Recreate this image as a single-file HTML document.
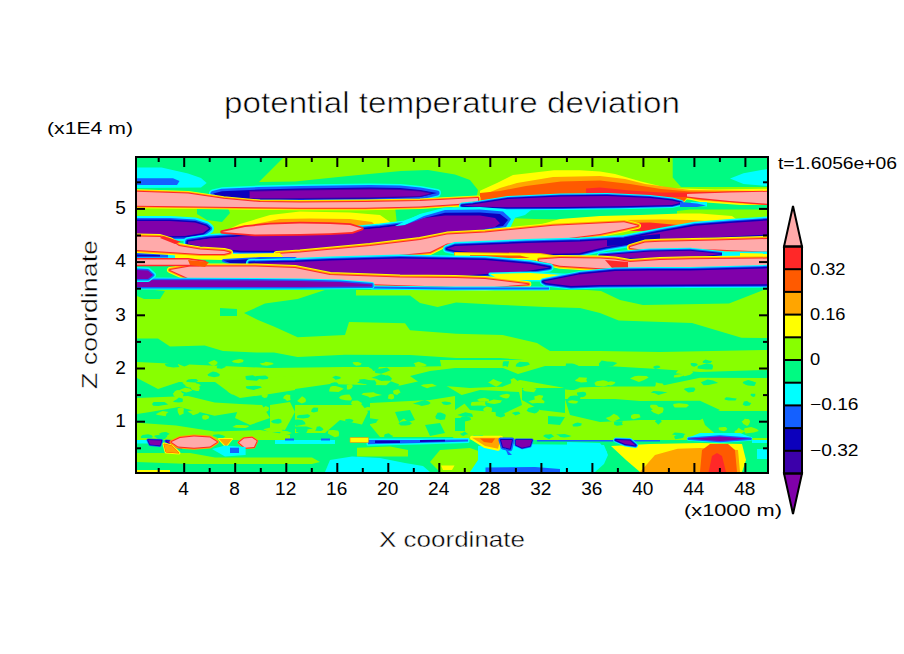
<!DOCTYPE html>
<html><head><meta charset="utf-8"><style>
html,body{margin:0;padding:0;background:#fff;}
svg{display:block;}
</style></head><body>
<svg width="904" height="654" viewBox="0 0 904 654">
<defs><clipPath id="cp"><rect x="137" y="158" width="630" height="314"/></clipPath></defs>
<rect x="0" y="0" width="904" height="654" fill="#fff"/>
<g clip-path="url(#cp)">
<rect x="137" y="158" width="630" height="314" fill="#00fa82"/>
<path d="M137,289L328,289L297.6,299L265,303.6L244,313L258,320L274.4,326.8L297.6,337.3L345,335L349,322L405,323.3L410,330.3L456,333.8L502.6,335L537,343L550,351L600,351L660,352L767,350L767,367L700,367L600,367L550,362L500,358L456,358L410,355L345,354.7L297.6,357L274,352.4L256,352.4L223,351L204.7,345.4L170,346.6L158,338.4L137,338.4Z" fill="#88ff00"/><path d="M137,289L144,289L165,291L160,299L144,299L137,296Z" fill="#00fa82"/><path d="M220,308L237,309L237,316L220,316Z" fill="#00fa82"/><path d="M356,289.6L410,289.5L550,288.5L580,289.5L601,291L620,300L643,305L672.7,304.6L729,303.4L763.6,290L767,290L767,338L741.5,337.8L692,323L618.7,320.6L600,313L580,308L545,307L502,305L456,302.4L437.6,307L420,303L410,295.5L356,295.5Z" fill="#88ff00"/><path d="M137,362L200,365L270,368L345,367L400,367L456,366L500,365L540,367L540,368L500,369L456,374L420,381L400,385.5L345,384.5L330,384L295,389L270,385L232,394.5L215,382L179,382L158,389L137,378Z" fill="#88ff00"/><path d="M223,380L260,378L295,376L295,390L270,394L240,398L228,392Z" fill="#88ff00"/><path d="M137,398L188,396L214.6,402.4L240,404L250,410L214.6,415.7L179,407L150,412L137,414Z" fill="#88ff00"/><path d="M137,422.8L176,425.5L214.6,431.6L260,430L290,435L290,440L137,440Z" fill="#88ff00"/><path d="M240,404L262,405L270,418L250,425L235,418Z" fill="#88ff00"/><path d="M270,405L290,402L295,412L285,430L270,428Z" fill="#88ff00"/><path d="M295,405L325,405L362,405L368,412L362,424.6L340,420L325,433L295,433Z" fill="#88ff00"/><path d="M370,403L430,400L455,396L455,437L380,437L370,425Z" fill="#88ff00"/><path d="M395,412L410,410L415,420L400,424Z" fill="#00fa82"/><path d="M425,425L440,423L445,433L430,436Z" fill="#00fa82"/><path d="M440,360L767,360L767,440L455,440L440,420L470,400L445,385Z" fill="#88ff00"/><path d="M410,376L430,371L455,368L503,368L518,374L545,366L607,366L658,369L700,372L767,370L767,378L700,377.7L658,386.5L607,386.5L565,388L520,380L503,386.5L470,388L445,386L420,383Z" fill="#00fa82"/><path d="M456,370L503,371L503,386.5L456,386Z" fill="#00fa82"/><path d="M458,396L480,390L519,392L522,405L505,413L470,410Z" fill="#00fa82"/><path d="M522,388L565,388L565,413L540,410L522,400Z" fill="#00fa82"/><path d="M565,399L615,399L640,401L700,400.7L720,410L700,420L640,420L600,422L570,415Z" fill="#00fa82"/><path d="M700,411L767,411L767,438L720,438L705,425Z" fill="#00fa82"/><path d="M455,418L465,418L465,431L455,431Z" fill="#00fa82"/><path d="M548,416L565,417L560,425L548,424Z" fill="#00fa82"/><path d="M430.7,403.1L428.8,404.5L421.7,406L418.5,404.8L412.8,403.7L418.9,401.8L424.8,400L428.8,401.4Z" fill="#00fa82"/><path d="M243.1,360.9L243.2,362.1L238.5,363.3L233.6,362.5L231.7,361.2L234.7,360.1L240.2,358.9L243.8,360Z" fill="#88ff00"/><path d="M341.1,377.9L339.2,379L335.4,379.8L334.8,378.9L332.2,377.3L334.5,376.3L335.6,375.8L339.9,376.8Z" fill="#00fa82"/><path d="M200.9,385.2L199.1,386.7L193.4,387.8L188.7,387.5L185,386.1L187,383.8L192.9,383L198.5,383.7Z" fill="#88ff00"/><path d="M750.2,421.5L748.9,424.6L747.1,425.9L743.5,423.9L741.7,421.5L743.3,420.5L744.8,418.7L749,419.3Z" fill="#88ff00"/><path d="M382.1,395L376.9,396L369.9,397.8L368.1,396.4L361.4,394.5L363.3,393L373.6,392.3L375.9,393.6Z" fill="#88ff00"/><path d="M169.6,433.7L166.7,435.9L165,437.3L162.2,436L158.6,434L161.6,432.4L164.9,432L166.1,432.1Z" fill="#00fa82"/><path d="M421.2,364.7L422.1,366.5L417,367.1L414.7,366.2L415.4,364.9L413.6,363.2L418.7,361.7L420.5,362.6Z" fill="#88ff00"/><path d="M445.8,415.5L444.8,419.5L440.3,419.9L435.9,418.7L435.4,416.5L437.5,412.8L440.7,412.4L445.1,414.3Z" fill="#00fa82"/><path d="M536.6,388.8L534,392.3L529.3,391.8L524.8,391.2L522.3,389.5L523.9,387.8L528.4,386.7L533.5,387.9Z" fill="#88ff00"/><path d="M579.9,398L581.3,400.5L576.5,400.7L569.8,400.2L567.6,398.4L570.3,396.1L574.9,395.4L582.4,395.9Z" fill="#00fa82"/><path d="M695.4,389.2L693.8,391.8L688.4,392.4L686.3,390.9L684.1,389.6L684.6,388.4L689.7,387.5L694.2,387.5Z" fill="#00fa82"/><path d="M755.2,395.1L755.2,396.2L753.2,396.9L751.4,395.9L750.4,394.9L751.1,393.7L752.4,393.7L755.4,393.8Z" fill="#00fa82"/><path d="M538.9,410.7L537.2,412.2L534.8,413.5L528.7,412L526.6,410.8L528.4,408L533.6,406.7L539,407.6Z" fill="#00fa82"/><path d="M713.1,366.2L712.3,369.4L706,369.6L697.5,368.6L697.9,366.1L701.4,365L706.6,363.3L712.4,364.6Z" fill="#00fa82"/><path d="M283,429.4L281.2,431.9L271.8,432.1L268.8,431.9L263.3,429.2L269.2,427.8L274,427.1L278.2,427.8Z" fill="#88ff00"/><path d="M353.6,420.7L351.6,422.4L348.2,422.5L346.7,421.4L345.1,420.9L345.5,419.3L349.3,418.7L352.4,419.5Z" fill="#00fa82"/><path d="M343.8,388.8L338.5,392L334.3,391.8L329.1,391.5L329.5,389.2L330.5,386.7L334,385.6L340,387.3Z" fill="#88ff00"/><path d="M578.7,365.8L575.8,366.5L572.2,367.2L565,366.8L566,365.1L565.9,363.6L572.1,363.4L574.3,364.1Z" fill="#00fa82"/><path d="M268.4,377.3L267.6,378.9L262.4,379.6L257.9,378.8L254.7,377.5L256.4,376.1L261.2,375.8L265.5,375.6Z" fill="#00fa82"/><path d="M544.5,401.2L544.1,403.3L537.1,403L532.1,403.4L528.3,401.3L535.3,399.2L537.3,397.8L541.8,399.3Z" fill="#88ff00"/><path d="M667.5,392.4L664.2,393.2L658.4,394.9L654.8,393.2L650.7,392.5L653.5,391L658.5,391.2L662,391.4Z" fill="#00fa82"/><path d="M489,399.4L489,401.7L483.3,401L479.9,401.7L477,399.7L479.7,398.5L484.3,397.8L487.2,398.8Z" fill="#88ff00"/><path d="M581.3,425.3L580,426.1L577.4,426.6L573.3,426.6L572.3,424.7L574.9,423.3L577.7,422.6L581.8,423.5Z" fill="#00fa82"/><path d="M307.6,430.6L306.1,433.2L300.3,433.6L295.9,431.8L296.3,429.9L295.9,428.3L299.6,427.7L306.9,428.1Z" fill="#00fa82"/><path d="M291.8,432.9L289.1,434.2L283,435.1L278.8,434.4L280.6,432.4L279.7,430.8L284.1,430.7L287.6,431.3Z" fill="#88ff00"/><path d="M379,367.7L376.9,370.3L373.2,370.9L371.9,368.9L369.1,367.4L369.4,365.5L373.7,364.6L377,365.1Z" fill="#00fa82"/><path d="M530,364.5L526.5,365.8L520.7,366.9L515.6,366.6L516.1,364.7L517,363.5L519.8,361.8L528.2,362.3Z" fill="#00fa82"/><path d="M617.4,363L612.9,366L605.4,366.4L599.2,366.7L598.9,363.5L601.7,360.6L607.3,361.6L613,361.8Z" fill="#00fa82"/><path d="M273.7,363.9L270.6,365.1L266.9,365.8L262.3,365.2L259.5,363.4L264.1,362.8L265.6,361.7L272.2,362.8Z" fill="#88ff00"/><path d="M371.5,381L367.3,382.5L365.3,384.3L357,382.7L359.6,381.3L359.1,379.4L364.4,379.1L367.5,379.7Z" fill="#00fa82"/><path d="M199.9,411.9L198.2,413.5L193,415.3L191.5,413.7L187.5,411.6L191,410.4L193.8,409.9L198.4,410.7Z" fill="#88ff00"/><path d="M554.2,436.6L551.1,437.7L549.1,439.3L546,437.7L543,436.1L545.2,434.5L548.4,434.4L551.1,433.9Z" fill="#00fa82"/><path d="M196.1,383.2L197.1,385.5L191.3,385.4L185.3,385.2L182.1,382.6L187.4,381.2L191.9,381L195.1,381.4Z" fill="#88ff00"/><path d="M727.3,428.8L726.3,430.3L723.9,431.2L719.5,430.3L718.6,428.5L718.9,427.4L724,427L725.6,427Z" fill="#88ff00"/><path d="M485.1,404L486.3,406L480.7,405.6L471.3,405.8L470.8,404.3L471.7,401.9L480,401.5L485.4,401.1Z" fill="#88ff00"/><path d="M471.2,419.5L469.3,420.5L464.8,421.4L461.3,420L459.7,418.5L461.8,416.7L466.6,416.1L470.3,417.6Z" fill="#00fa82"/><path d="M472.4,414.6L473,417.1L467.2,416.5L462.8,416.4L457.2,415L461.5,413.6L465.3,412.2L471.4,413.6Z" fill="#00fa82"/><path d="M183.3,394.8L182.9,396.8L179.8,398.9L175.2,397L173.7,395.7L172.9,393.2L178.3,392.1L183.9,393.5Z" fill="#88ff00"/><path d="M312.9,428.4L307.1,429.6L304.8,431.2L296.7,429.5L294.6,428.3L294.2,426.5L303,426.5L306.5,426.5Z" fill="#00fa82"/><path d="M377,421L376.2,422.7L370.6,424L364.9,423.7L364.9,421.7L365.2,419.6L369.8,418.2L378.7,419.5Z" fill="#00fa82"/><path d="M198.2,380.8L195.3,382.4L190.4,382.3L186.2,381.8L186.6,380.5L188.2,379.6L191.6,378.9L196.3,379Z" fill="#00fa82"/><path d="M338.5,383.9L337.4,385.5L335,385.9L331,386L330.4,383.5L331.5,382.9L334.6,382.2L336.9,382.5Z" fill="#00fa82"/><path d="M152.8,436.5L152.2,437.7L147.2,438.1L141.1,438L140.8,436.5L142.5,435L148.2,434.3L151.6,435.3Z" fill="#00fa82"/><path d="M660.5,367.3L659,368.1L655.3,369L654.2,368.3L653.1,367.3L653.9,366.3L656.8,365.4L659.1,365.7Z" fill="#00fa82"/><path d="M621.9,423.2L622.9,424.9L617,425.8L614.3,424.8L614.1,423.7L614.1,421.7L617.6,421.3L623,421.4Z" fill="#00fa82"/><path d="M659,407.7L658,409L655.7,410.3L651.4,408.6L650,406.7L650.6,404.8L655.1,404.8L656.7,405.1Z" fill="#88ff00"/><path d="M504.5,413.5L505.1,416L500.9,417.6L496,415.9L495.6,413.6L496.1,410.2L500.6,410.4L503.1,410.5Z" fill="#00fa82"/><path d="M323.5,429.4L322.2,430.4L320.9,431L315.1,430.8L316.2,428.9L316.7,426.8L319.8,426.3L322.4,428.1Z" fill="#00fa82"/><path d="M267.6,396.1L266.8,397.4L264.4,398L262.5,397L261.5,395.9L262.3,394L264.5,393.9L267.9,394.3Z" fill="#88ff00"/><path d="M620,418.6L617,420L612.8,422L608.9,420.2L605.7,418L610,416.5L613.8,413.8L617.8,415.7Z" fill="#88ff00"/><path d="M615.1,383.1L613.3,384.6L610.8,385.4L605.5,384.5L603.4,383.6L605.7,382.7L610.9,381.2L615.2,382Z" fill="#88ff00"/><path d="M408.6,422.1L407.3,423.9L403.8,424.9L400.6,423L399.2,422.3L400.6,420.7L404,418.6L405.6,420.1Z" fill="#88ff00"/><path d="M508.7,363.2L507.8,367L505.4,366L502.6,366.6L502.7,363.1L503.6,361.3L505.3,361.2L509.1,361.2Z" fill="#00fa82"/><path d="M269,408.2L268.3,410.8L265,412.5L263.6,410.1L260.6,408.3L263.9,407.2L265.6,406.1L268.6,407.2Z" fill="#88ff00"/><path d="M260.3,377.9L256.9,380.7L253.7,380.6L246.7,379.9L245.7,378.5L245.5,376L252.8,375.2L256.2,376.8Z" fill="#00fa82"/><path d="M518,381.4L516.5,383.8L514.7,384.9L510.8,384.9L511.3,381.4L510.4,379.5L513.9,378.1L516.7,380.3Z" fill="#88ff00"/><path d="M492,410L491.4,412L486.5,412.4L483.6,410.8L483.1,409.4L484.2,408L486.8,406.4L491.8,407.7Z" fill="#88ff00"/><path d="M290.2,397.7L290.6,399.9L287,400.9L285.3,399.2L283,398.3L284.2,396L286.6,394.6L290.3,394.9Z" fill="#88ff00"/><path d="M501.2,401.5L500.4,402.8L494.5,403.9L490.2,403.5L486.3,402.3L490.1,400.8L493.6,399.6L502.1,400.4Z" fill="#88ff00"/><path d="M181.5,391.9L182.4,393.3L177.2,393.1L174,393.3L174.1,392L176,390.4L177.9,389.9L180.6,390.6Z" fill="#88ff00"/><path d="M167.2,436.4L165.4,438.4L161.6,440.4L157.2,438.6L153.9,436L155.7,435.3L161.8,434.8L166.6,434.3Z" fill="#00fa82"/><path d="M689,405.3L686.3,407.4L680.4,407.6L674.7,407.5L673.4,405.8L673.3,404.1L678.7,403.2L686.9,404.1Z" fill="#88ff00"/><path d="M683,375.9L681,376.5L679,377.2L673.8,377.5L674,375.6L675.4,374.9L679.4,374.2L683.1,374.5Z" fill="#88ff00"/><path d="M712.1,361L710.5,363.3L706,363.1L703.4,362.9L702.4,362L703.8,360.4L705.6,359.4L708.6,360.4Z" fill="#00fa82"/><path d="M586.3,379.7L587.1,382L581.2,382.5L576.3,381.3L574.8,380.3L577.2,378.9L579.1,377.2L587.1,377.8Z" fill="#88ff00"/><path d="M756.2,382.5L754.4,386.1L747.8,385.4L745.2,384.4L742.6,383.1L743.6,381.4L748.2,379.9L751.9,381.1Z" fill="#00fa82"/><path d="M394,396.3L394.1,398.3L391.9,399.4L387.8,398.4L388.4,396.4L388.4,395L390.3,394.1L393.3,394.3Z" fill="#88ff00"/><path d="M509.8,395.7L508.4,397.9L506.2,398.4L502.8,397.7L499.1,396L501.7,394.7L506.9,393.7L509.6,394.6Z" fill="#88ff00"/><path d="M400.6,392.5L398.2,393.7L397.3,394.9L393.8,394.1L393,391.5L393.4,390.6L396.8,389.6L398.9,389.4Z" fill="#88ff00"/><path d="M392,378.5L390.7,380.8L384.6,380.7L381,381L379.2,378.7L381.7,376.1L387.4,375.2L389.4,376Z" fill="#00fa82"/><path d="M451.4,403.7L449.5,404.5L446.5,405L443.5,404.5L442.7,403.7L441.3,402.1L445.2,401.4L450.2,402.2Z" fill="#00fa82"/><path d="M249.1,426.5L245.7,428L240.8,428.1L236.2,427.7L232.4,426.9L236,424.9L241.7,425.1L247.9,425.5Z" fill="#88ff00"/><path d="M661.7,421.9L660.6,422.6L658.3,424.7L656.1,422.6L654.9,421.5L656.2,420.1L659.7,418.7L660.9,419.5Z" fill="#00fa82"/><path d="M217.2,363.8L216.3,364.5L213.8,366L211.2,365.1L208.1,362.7L210.5,361.6L214.2,359.9L217.6,361.9Z" fill="#88ff00"/><path d="M578.3,401.8L576.3,403.4L573.1,403.4L570,403L567.6,402L569,400.8L572.1,400.2L577.1,400.9Z" fill="#88ff00"/><path d="M177.9,364.6L179.5,367L173.4,367.6L166.8,366.4L164.8,364.7L165.2,363.8L172.6,362.6L178.3,362.8Z" fill="#00fa82"/><path d="M683.7,436.8L683.1,437.8L680.2,438.6L675.3,439.2L674,436.8L675.8,435.3L680.3,434.7L684.3,434Z" fill="#00fa82"/><path d="M640.6,417.2L636.3,418.4L633.3,419.3L631,418.1L631,416.2L631.5,414.9L634.1,414L639.3,414.3Z" fill="#88ff00"/><path d="M371.9,409.5L371.3,410.2L367.1,410.8L363.5,410.5L363.7,409L364.4,408.3L367.2,407.1L370.2,407.3Z" fill="#88ff00"/><path d="M399.2,384.2L397.1,387.1L393.3,388.9L386.3,387.8L386.2,385.2L388.8,382.9L390.9,381.2L396.1,383.3Z" fill="#00fa82"/><path d="M262,387.6L258.8,388.6L253.9,389.9L247.1,388.7L245.8,387.5L246,386.2L255.2,385.7L260.4,386.3Z" fill="#00fa82"/><path d="M384.2,377.7L384,379.6L379.7,380.4L376,378.8L371.5,377.8L376.6,376L381,374.3L385.3,375.3Z" fill="#00fa82"/><path d="M225.3,436.6L222.8,438.3L218.2,438.3L215.6,437L212.6,435.8L213.5,434.7L218.9,434.2L222.8,435.3Z" fill="#00fa82"/><path d="M318,409.9L317.9,411.4L313.7,412.5L311.1,411.8L311.8,409.3L312.5,408.4L313.7,407.4L318.2,407.8Z" fill="#00fa82"/><path d="M219.9,374.2L219.2,376.2L214.1,377.2L208.3,375.9L207.5,374.5L210.7,372.6L212.9,371.4L216.6,372.3Z" fill="#00fa82"/><path d="M520.4,413.7L518.8,414.3L515.3,415.5L514.2,414.6L511.7,413L514,412.2L515.9,411.8L518.9,411.8Z" fill="#00fa82"/><path d="M412,423.2L409.6,424.9L405.8,425.6L400.8,425.5L398.4,423.5L401.7,421.4L406.1,421L409.5,421.6Z" fill="#00fa82"/><path d="M426.9,364.9L424.5,366.5L419.4,366.7L417.1,366.1L415.5,364.6L416.3,363.7L420.9,362.4L423.9,363.5Z" fill="#88ff00"/><path d="M199.7,388.2L198.9,391.1L196.5,391L191.9,389.8L190.7,388L191.6,385.7L196.8,384.4L199.2,386.7Z" fill="#88ff00"/><path d="M663.6,409.4L662.7,412.5L658.4,414.4L653.4,412.4L650.9,410.6L654.1,408.2L655.8,406.5L663.1,407.5Z" fill="#88ff00"/><path d="M304.8,421.9L305.6,424.3L296.2,426.1L294.9,424.7L291,422.4L291.2,420.5L297.4,419.6L302.2,420Z" fill="#00fa82"/><path d="M225.7,367L223.9,367.8L221.7,368.8L216.8,368.2L216.8,366.5L218.4,365.5L222.3,364.7L225.2,365.1Z" fill="#00fa82"/><path d="M685.5,433.9L682.8,435.7L680,435.9L677,435.3L672,434.4L674.7,432.6L677.9,432.7L681.5,433Z" fill="#00fa82"/><path d="M351.9,398.4L351.1,400.4L345.5,400.3L340.9,399.2L338.9,397.8L340.9,395.7L344.9,394.7L349.5,394.4Z" fill="#88ff00"/><path d="M182.8,400.4L182.5,402L178.6,402.5L173.8,402L173.1,401.2L176.5,399.4L178.9,397.6L182.8,398.8Z" fill="#00fa82"/><path d="M376.5,383L375.4,385.4L371.2,385L366.9,384.9L364.3,382.8L366.8,381.2L369.4,380.3L374.8,380.3Z" fill="#00fa82"/><path d="M664.2,385.7L663.7,387.1L660.1,388.4L654.3,387.9L655.7,385.1L655.8,382.3L659,383.3L662.5,383.5Z" fill="#88ff00"/><path d="M571.6,436L568.5,437L564.3,437.4L560.2,437L558.6,435.6L556,434.5L564.8,433.9L567.3,434.7Z" fill="#00fa82"/><path d="M339.1,433L338.7,436.2L334.9,437.3L330.6,434.9L327.9,433.5L328.4,430.3L333.5,429.9L338.3,430.7Z" fill="#88ff00"/><path d="M209.3,416.8L208.6,418.5L205.5,419.8L202.8,419.2L202,416.8L202.9,415.3L206.5,415L208.2,415.8Z" fill="#88ff00"/><path d="M310.4,415.7L308.3,417.8L303.3,418.5L297,418.1L297.2,415.8L299.5,415.1L303.6,414.8L307.9,414.3Z" fill="#00fa82"/><path d="M166.5,413.6L165.7,416.3L161.2,415.6L158,415L155.7,414.2L158.9,412.4L162.7,411.1L168.5,412Z" fill="#88ff00"/><path d="M580.2,387.7L574.3,389.9L570.8,389.9L565.3,389.6L563.5,388.3L563.5,386.5L569.3,385.7L575.2,385.8Z" fill="#00fa82"/><path d="M693.1,372.5L690.1,374.7L684.5,376.2L680.2,373.8L675.6,373.2L678.4,370L684.3,369.4L691.1,369.7Z" fill="#88ff00"/><path d="M736.8,398.5L735.5,400.5L728.5,400.5L725.2,399.8L724.3,398.9L726.1,397.3L729.6,397.4L732.1,397.9Z" fill="#00fa82"/><path d="M168.2,404.5L162.6,405.3L158.4,406.1L153.2,405.7L152,404L153.6,402L158.5,402L164.5,401.9Z" fill="#00fa82"/><path d="M751.3,403L749.7,405.6L745.7,405.9L742.7,404.8L743.1,403.7L743.9,401.4L747.1,400.9L749.2,402.4Z" fill="#00fa82"/><path d="M468.4,434.3L466,434.5L463.4,435.9L461.4,435.2L459.9,433.6L462,433.2L464.7,431.5L466.6,432.9Z" fill="#00fa82"/><path d="M352.9,386.3L351.4,388.5L349.1,389.5L346.8,389.6L346.9,387L346.8,385L349.8,384.2L351.6,384.2Z" fill="#88ff00"/><path d="M306,399.9L305.5,401.9L301.8,403.6L298.7,402.1L297.1,401L299.5,398.8L302.1,396.2L305.1,398.2Z" fill="#88ff00"/><path d="M390.3,370.2L386.2,372.1L381.2,373.8L375.4,373L374.6,371.1L377.8,369.1L382.7,368.3L387.1,367.5Z" fill="#00fa82"/><path d="M745,431.1L741.4,433.8L740.4,435.2L734.6,433.8L734.7,431L736.6,430.2L738.6,427.7L741.4,429.7Z" fill="#88ff00"/><path d="M361.7,363.4L360.3,365.3L356.2,365.8L354,364.5L353.5,364L352.5,362.3L357.9,361.9L359.3,362.4Z" fill="#88ff00"/><path d="M502.5,382.6L498.8,385.2L496.2,386.8L490.6,383.8L488,382.3L490,381.4L493.3,379L497.6,381Z" fill="#88ff00"/><path d="M281.6,421.5L281.4,422.7L278.2,423.7L273.2,423.2L270.8,421.6L273.1,420L278.3,418.7L281.1,419.5Z" fill="#00fa82"/><path d="M436.9,386.1L430.6,386.9L427.2,388.3L423.4,386.8L420.9,385.4L423.2,384.5L428.7,383.9L432.2,383.7Z" fill="#88ff00"/><path d="M361.9,403.1L361.5,404.7L357.3,406.3L352.4,405.1L351,403.7L352.1,400.7L357.7,400.5L359.4,401.5Z" fill="#88ff00"/><path d="M648.7,377.6L644.1,380L638.9,381.9L634,380.1L630,378.4L634.5,376.2L638.3,375.7L646.5,376Z" fill="#88ff00"/><path d="M758.8,431L753.8,432.4L749.8,433.1L745.4,433.6L744.1,431.3L744.5,428.3L751.2,426.9L756.9,428.9Z" fill="#88ff00"/><path d="M183.5,411.9L183.7,413.5L179.6,415.6L178.2,412.9L177.6,411.1L177.7,408.2L180.9,407.4L183.9,408.5Z" fill="#88ff00"/><path d="M542.7,397.5L541.3,399.3L538.3,400.5L534.8,399.3L534.5,398.1L534.2,396.4L539.4,395L543.2,395.7Z" fill="#88ff00"/><path d="M718.2,383.1L714,383.8L708.7,385L703.5,385.2L700.9,382.3L704.7,380.7L707.5,379.6L713.1,380.5Z" fill="#00fa82"/><path d="M189.1,364.6L187.1,365.6L184.3,366.4L180.5,365L178,364.1L180.5,362L184.1,360.8L187.1,362.9Z" fill="#00fa82"/><path d="M481.8,437L482.7,438L478.5,439L473.7,437.9L471.2,436.5L474.1,435.3L477.6,435.4L483.2,434.9Z" fill="#00fa82"/><path d="M697.8,364.5L697.2,365.4L694.2,366.8L691.7,366L690.5,364.1L690.9,363L693.9,362.9L696.1,363.3Z" fill="#00fa82"/><path d="M192.3,390.6L189.7,391.5L186.2,392.5L182.8,391.4L178.5,390.4L181.8,388.9L185.1,387.8L189.6,388.4Z" fill="#88ff00"/><path d="M586.3,394.5L585,396.2L582.4,397.3L578.4,396.2L577,394.1L577,392.5L583.3,391.8L585.7,392.6Z" fill="#00fa82"/><path d="M610.1,383.1L607.9,385.2L603.5,386.5L595.7,385.7L594.4,383.1L596.8,381.3L603.1,380.2L606.5,381.1Z" fill="#88ff00"/><path d="M392.9,435.8L391.6,439.6L388.8,439.8L384.7,438.8L384.1,436.1L384.7,434.3L388.7,433.3L391.3,435.3Z" fill="#00fa82"/><path d="M137,443L767,443L767,472L137,472Z" fill="#00fa82"/><path d="M137,453L190,453L215,457.6L312,457.6L320,462L312,464L190,464L137,462Z" fill="#88ff00"/><path d="M357,447.7L390,446.5L408,450L408,456.5L357,456.5Z" fill="#88ff00"/><path d="M440,450L470,448L490,455L480,472L440,472L430,462Z" fill="#88ff00"/><path d="M137,470L170,470L170,472L137,472Z" fill="#ffff00"/><path d="M137,440L150,440L150,443.5L137,443.5Z" fill="#00ffff"/><path d="M275,440L335,440L335,444L275,444Z" fill="#00ffff"/><path d="M285,438.5L294,438.5L294,440.5L285,440.5Z" fill="#1460ff"/><path d="M321,438.5L330,438.5L330,440.5L321,440.5Z" fill="#1460ff"/><path d="M325,472L330,460L352,456.5L380,458L405,463L423,466L430,472Z" fill="#00ffff"/><path d="M441,465.5L454.5,465.5L452,470L443,470Z" fill="#ffff00"/><path d="M478,446L500,444L604,445L608,455L604,464L595,472L470,472L478,460Z" fill="#00ffff"/><path d="M485.5,467.6L535,467L560,469L560,472L485.5,472Z" fill="#1460ff"/><path d="M567,442L600,443L607,452L600,464L567,464Z" fill="#00ffff"/><path d="M611,446L650,444L700,443L742,444L746,460L742,472L640,472L626,460Z" fill="#ffff00"/><path d="M640,472L655,455L677.6,448.8L700,448L738,450L740,472Z" fill="#ffa500"/><path d="M700,472L702,450L710,444L728,444L735,450L737,472Z" fill="#ff5a00"/><path d="M708.6,472L712,456L717,453L722,456L726,472Z" fill="#ff2828"/><path d="M757,449L767,449L767,459L757,459Z" fill="#00ffff"/><path d="M752,440L767,440L767,443L752,443Z" fill="#00ffff"/><path d="M368,440L420,440L468,439.5L468,441.5L420,443L368,444.3Z" fill="#00ffff" stroke="#00ffff" stroke-width="3" stroke-linejoin="round"/><path d="M368,440L420,440L468,439.5L468,441.5L420,443L368,444.3Z" fill="#1460ff"/><path d="M375,440.5L400,440.5L400,443L375,443Z" fill="#0c00bc"/><path d="M420,440L445,439.8L445,441.5L420,442Z" fill="#0c00bc"/><path d="M537,440L600,440L600,441.5L537,441.5Z" fill="#1460ff"/><path d="M350.5,438L368,438L368,442L350.5,442Z" fill="#ffa500" stroke="#ffa500" stroke-width="1.5" stroke-linejoin="round"/><path d="M350.5,438L368,438L368,442L350.5,442Z" fill="#ffff00"/><path d="M472,437.7L501,437.7L498,448.8L485,446Z" fill="#ffff00" stroke="#ffff00" stroke-width="4" stroke-linejoin="round"/><path d="M472,437.7L501,437.7L498,448.8L485,446Z" fill="#ffa500"/><path d="M480,438.5L495,438.5L492,443L484,442Z" fill="#ff5a00"/><path d="M501,440L512,440L510,448.8L503,447Z" fill="#1460ff" stroke="#1460ff" stroke-width="5" stroke-linejoin="round"/><path d="M501,440L512,440L510,448.8L503,447Z" fill="#0c00bc" stroke="#0c00bc" stroke-width="2" stroke-linejoin="round"/><path d="M501,440L512,440L510,448.8L503,447Z" fill="#8000aa"/><path d="M505,448L512,455L508,455Z" fill="#1460ff"/><path d="M516,440L532,440L530,446L522,447.7L516,445Z" fill="#1460ff" stroke="#1460ff" stroke-width="3" stroke-linejoin="round"/><path d="M516,440L532,440L530,446L522,447.7L516,445Z" fill="#0c00bc" stroke="#0c00bc" stroke-width="1.5" stroke-linejoin="round"/><path d="M516,440L532,440L530,446L522,447.7L516,445Z" fill="#8000aa"/><path d="M600,440L660,440L660,441.5L600,441.5Z" fill="#1460ff"/><path d="M615.7,440L630,440.5L635.6,445.4L625,444Z" fill="#00ffff" stroke="#00ffff" stroke-width="5" stroke-linejoin="round"/><path d="M615.7,440L630,440.5L635.6,445.4L625,444Z" fill="#1460ff" stroke="#1460ff" stroke-width="3.5" stroke-linejoin="round"/><path d="M615.7,440L630,440.5L635.6,445.4L625,444Z" fill="#0c00bc" stroke="#0c00bc" stroke-width="2" stroke-linejoin="round"/><path d="M615.7,440L630,440.5L635.6,445.4L625,444Z" fill="#8000aa"/><path d="M700,433L740,433L750,437L690,437Z" fill="#00ffff"/><path d="M688.7,438.8L720,436.6L750.6,438.8L720,441Z" fill="#00ffff" stroke="#00ffff" stroke-width="4" stroke-linejoin="round"/><path d="M688.7,438.8L720,436.6L750.6,438.8L720,441Z" fill="#1460ff" stroke="#1460ff" stroke-width="2.5" stroke-linejoin="round"/><path d="M688.7,438.8L720,436.6L750.6,438.8L720,441Z" fill="#8000aa"/><path d="M148,440L161.5,440.5L160,445.4L150,444.5Z" fill="#1460ff" stroke="#1460ff" stroke-width="3" stroke-linejoin="round"/><path d="M148,440L161.5,440.5L160,445.4L150,444.5Z" fill="#0c00bc" stroke="#0c00bc" stroke-width="1.5" stroke-linejoin="round"/><path d="M148,440L161.5,440.5L160,445.4L150,444.5Z" fill="#8000aa"/><path d="M166,441L178,442L181.5,447.7L172,446Z" fill="#1460ff" stroke="#1460ff" stroke-width="3" stroke-linejoin="round"/><path d="M166,441L178,442L181.5,447.7L172,446Z" fill="#0c00bc" stroke="#0c00bc" stroke-width="1.5" stroke-linejoin="round"/><path d="M166,441L178,442L181.5,447.7L172,446Z" fill="#8000aa"/><path d="M164,444L172,446L179,453L166,452Z" fill="#ffff00" stroke="#ffff00" stroke-width="3" stroke-linejoin="round"/><path d="M164,444L172,446L179,453L166,452Z" fill="#ff5a00" stroke="#ff5a00" stroke-width="1" stroke-linejoin="round"/><path d="M164,444L172,446L179,453L166,452Z" fill="#ffa500"/><path d="M171.5,442L180,438L194,436.6L210,437.5L217,442L210,446.5L194,447.7L178,446.5Z" fill="#ffa500" stroke="#ffa500" stroke-width="4" stroke-linejoin="round"/><path d="M171.5,442L180,438L194,436.6L210,437.5L217,442L210,446.5L194,447.7L178,446.5Z" fill="#ff2828" stroke="#ff2828" stroke-width="2" stroke-linejoin="round"/><path d="M171.5,442L180,438L194,436.6L210,437.5L217,442L210,446.5L194,447.7L178,446.5Z" fill="#ffaaaa"/><path d="M219,439L232,439L226,446.5Z" fill="#ffff00" stroke="#ffff00" stroke-width="2" stroke-linejoin="round"/><path d="M219,439L232,439L226,446.5Z" fill="#ffa500"/><path d="M239,442.5L244,438.5L252,437.7L256.7,441L254,447L245,447.7Z" fill="#ffa500" stroke="#ffa500" stroke-width="3" stroke-linejoin="round"/><path d="M239,442.5L244,438.5L252,437.7L256.7,441L254,447L245,447.7Z" fill="#ff2828" stroke="#ff2828" stroke-width="2" stroke-linejoin="round"/><path d="M239,442.5L244,438.5L252,437.7L256.7,441L254,447L245,447.7Z" fill="#ffaaaa"/><path d="M212,449L225,445.4L245.6,447L245.6,455L225,456.5Z" fill="#00ffff"/><path d="M230,447.7L239,447.7L239,453L230,453Z" fill="#1460ff"/><rect x="137" y="158" width="630" height="132" fill="#00fa82"/><path d="M283,158L672.7,158L672.7,177.6L681,187L767,187L767,200L480,200L259,190L259,182Z" fill="#88ff00"/><path d="M259,182L295,181.5L348,176L401,171L428,170L455,174.5L470,180L478,190L476,200L259,200Z" fill="#00fa82"/><path d="M137,167.6L161.5,167.6L188,173.6L201,178L206.7,183L201,187.5L137,188Z" fill="#00ffff"/><path d="M137,178.2L173,178.2L179.5,181L177,185L137,185Z" fill="#1460ff"/><path d="M730,178.5L743.5,173.2L767,169L767,186L743.5,184Z" fill="#00ffff"/><path d="M480,190.8L497,183L513,175L554,170.3L580,170.3L600,171.6L615,174L641,181.5L668,188L715,189.5L767,188.7L767,207L700,202L687,199L681,206L480,205Z" fill="#ffff00"/><path d="M483,195L500,188L517,183L553,177L600,176L625,179L645,184L690,190L767,191L767,205.5L700,200.5L687,198L681,205L485,205Z" fill="#ffa500"/><path d="M480,193L500,191L526,186L561,181.5L600,180.5L630,184L661,189L690,191.5L767,192L767,205L700,199.5L687,197.5L681,205L480,205Z" fill="#ff5a00"/><path d="M586,188.5L600,187.5L630,190.5L661,192.5L690,192.5L767,191L767,204.5L700,199L687,197L661,197L630,195L586,193Z" fill="#ff2828"/><path d="M687,194L700,193.5L730,192.5L767,191.8L767,203.7L730,201L700,198L687,196.6Z" fill="#ff2828" stroke="#ff2828" stroke-width="2" stroke-linejoin="round"/><path d="M687,194L700,193.5L730,192.5L767,191.8L767,203.7L730,201L700,198L687,196.6Z" fill="#ffaaaa"/><path d="M137,205L767,205L767,240L137,240Z" fill="#88ff00"/><path d="M197,206L227,206L230,213L222,222L207,220L197,214Z" fill="#00fa82"/><path d="M395,206L450,206L455,209L420,225L397,225Z" fill="#00fa82"/><path d="M480,206L677,206L677,214L600,220L535,219L480,217Z" fill="#00fa82"/><path d="M677,205L767,205L767,209.6L690,209.6L677,211Z" fill="#00fa82"/><path d="M480,206L536,206L525,215L500,222L480,220Z" fill="#00ffff"/><path d="M690,202L707,202L707,206.5L696,206Z" fill="#00ffff"/><path d="M213,193.5L222,191.3L259,189.5L300,188.5L370,187.5L400,188L420,190L437,193L420,197L370,198.8L300,199.5L259,199.5L222,198.4Z" fill="#00ffff" stroke="#00ffff" stroke-width="8" stroke-linejoin="round"/><path d="M213,193.5L222,191.3L259,189.5L300,188.5L370,187.5L400,188L420,190L437,193L420,197L370,198.8L300,199.5L259,199.5L222,198.4Z" fill="#1460ff" stroke="#1460ff" stroke-width="5" stroke-linejoin="round"/><path d="M213,193.5L222,191.3L259,189.5L300,188.5L370,187.5L400,188L420,190L437,193L420,197L370,198.8L300,199.5L259,199.5L222,198.4Z" fill="#0c00bc"/><path d="M250,191.5L300,190.5L370,189.5L400,190L420,191.5L430,193.5L420,196L370,197.3L300,198L250,198Z" fill="#3c00aa" stroke="#3c00aa" stroke-width="2" stroke-linejoin="round"/><path d="M250,191.5L300,190.5L370,189.5L400,190L420,191.5L430,193.5L420,196L370,197.3L300,198L250,198Z" fill="#8000aa"/><path d="M137,191.8L188,193.5L223.5,198.8L260,202L300,202.5L365,202L420,201L458,199L478,198L478,201L458,204L420,206.5L365,207.8L300,207.8L255,207.3L137,205.8Z" fill="#ffff00" stroke="#ffff00" stroke-width="5" stroke-linejoin="round"/><path d="M137,191.8L188,193.5L223.5,198.8L260,202L300,202.5L365,202L420,201L458,199L478,198L478,201L458,204L420,206.5L365,207.8L300,207.8L255,207.3L137,205.8Z" fill="#ffa500" stroke="#ffa500" stroke-width="3.5" stroke-linejoin="round"/><path d="M137,191.8L188,193.5L223.5,198.8L260,202L300,202.5L365,202L420,201L458,199L478,198L478,201L458,204L420,206.5L365,207.8L300,207.8L255,207.3L137,205.8Z" fill="#ff2828" stroke="#ff2828" stroke-width="2" stroke-linejoin="round"/><path d="M137,191.8L188,193.5L223.5,198.8L260,202L300,202.5L365,202L420,201L458,199L478,198L478,201L458,204L420,206.5L365,207.8L300,207.8L255,207.3L137,205.8Z" fill="#ffaaaa"/><path d="M462,205.5L472.7,204.6L508,199L561,196.5L607,196L650,198L672,200.5L681,202.8L672,205L620,206.3L561,207L508,207.2L472.7,206.5Z" fill="#00ffff" stroke="#00ffff" stroke-width="6" stroke-linejoin="round"/><path d="M462,205.5L472.7,204.6L508,199L561,196.5L607,196L650,198L672,200.5L681,202.8L672,205L620,206.3L561,207L508,207.2L472.7,206.5Z" fill="#1460ff" stroke="#1460ff" stroke-width="4" stroke-linejoin="round"/><path d="M462,205.5L472.7,204.6L508,199L561,196.5L607,196L650,198L672,200.5L681,202.8L672,205L620,206.3L561,207L508,207.2L472.7,206.5Z" fill="#0c00bc" stroke="#0c00bc" stroke-width="2.5" stroke-linejoin="round"/><path d="M462,205.5L472.7,204.6L508,199L561,196.5L607,196L650,198L672,200.5L681,202.8L672,205L620,206.3L561,207L508,207.2L472.7,206.5Z" fill="#8000aa"/><path d="M680,202L697,203.5L706,205.5L697,207L680,207Z" fill="#1460ff"/><path d="M222,232L240,224L270,215L300,211.6L350,212.5L380,215L390,222L395,230L385,236L222,238Z" fill="#ffff00"/><path d="M235,232L255,224L280,219L310,218.5L350,219L372,222L380,230L375,236L235,238Z" fill="#ffa500"/><path d="M535,226L560,219L600,216L640,215L681,213.4L700,213.5L732,216L740,222L732,226L560,228Z" fill="#ffff00"/><path d="M575,226L620,220L660,219.5L690,220L706,221L712,226L690,230L575,230Z" fill="#ffa500"/><path d="M620,223L650,222.5L678,225L690,228L678,231L620,231Z" fill="#ff2828"/><path d="M137,221L170,221L195,222.5L206,226L209,228.5L203,233L185,236L137,236.5Z" fill="#00ffff" stroke="#00ffff" stroke-width="10" stroke-linejoin="round"/><path d="M137,221L170,221L195,222.5L206,226L209,228.5L203,233L185,236L137,236.5Z" fill="#1460ff" stroke="#1460ff" stroke-width="6" stroke-linejoin="round"/><path d="M137,221L170,221L195,222.5L206,226L209,228.5L203,233L185,236L137,236.5Z" fill="#0c00bc" stroke="#0c00bc" stroke-width="3" stroke-linejoin="round"/><path d="M137,221L170,221L195,222.5L206,226L209,228.5L203,233L185,236L137,236.5Z" fill="#8000aa"/><path d="M188,241.7L210,238.5L241,236.4L300,233.5L347,231L380,228L405,225L424,218L445,215.4L480,215.4L495,218L500,223.3L495,227L480,230L460,233.5L440,236L405,240L370,246L347,248.8L300,250.6L241,250.6L210,248L188,243.5Z" fill="#00ffff" stroke="#00ffff" stroke-width="9" stroke-linejoin="round"/><path d="M188,241.7L210,238.5L241,236.4L300,233.5L347,231L380,228L405,225L424,218L445,215.4L480,215.4L495,218L500,223.3L495,227L480,230L460,233.5L440,236L405,240L370,246L347,248.8L300,250.6L241,250.6L210,248L188,243.5Z" fill="#1460ff" stroke="#1460ff" stroke-width="6" stroke-linejoin="round"/><path d="M188,241.7L210,238.5L241,236.4L300,233.5L347,231L380,228L405,225L424,218L445,215.4L480,215.4L495,218L500,223.3L495,227L480,230L460,233.5L440,236L405,240L370,246L347,248.8L300,250.6L241,250.6L210,248L188,243.5Z" fill="#0c00bc" stroke="#0c00bc" stroke-width="3.5" stroke-linejoin="round"/><path d="M188,241.7L210,238.5L241,236.4L300,233.5L347,231L380,228L405,225L424,218L445,215.4L480,215.4L495,218L500,223.3L495,227L480,230L460,233.5L440,236L405,240L370,246L347,248.8L300,250.6L241,250.6L210,248L188,243.5Z" fill="#8000aa"/><path d="M395,226L420,214L445,207.4L480,207L505,209L515,218L510,228L490,234L450,237Z" fill="#00ffff"/><path d="M405,225L424,216L445,210L480,209.5L503,211.5L511,219L506,227L450,235Z" fill="#1460ff"/><path d="M410,224L426,217.5L445,212.7L480,212.5L500,214L508,220L503,226L450,234Z" fill="#0c00bc"/><path d="M188,241.7L210,238.5L241,236.4L300,233.5L347,231L380,228L405,225L424,218L445,215.4L480,215.4L495,218L500,223.3L495,227L480,230L460,233.5L440,236L405,240L370,246L347,248.8L300,250.6L241,250.6L210,248L188,243.5Z" fill="#8000aa"/><path d="M222,232L245,227L270,224.5L300,223.5L330,224L350,225L362,228.6L352,232L330,233.3L300,234L255,234.5Z" fill="#ff2828" stroke="#ff2828" stroke-width="3.5" stroke-linejoin="round"/><path d="M222,232L245,227L270,224.5L300,223.5L330,224L350,225L362,228.6L352,232L330,233.3L300,234L255,234.5Z" fill="#ffaaaa"/><path d="M276.6,254L300,252.5L370,245.9L420,240L447,234.6L485,232.6L553,225.8L624,222.3L638,225.8L624,229L600,234L553,240L485,243L447,243.5L430,252L370,257.8L347,259.4L303,260L276.6,256Z" fill="#ffff00" stroke="#ffff00" stroke-width="6" stroke-linejoin="round"/><path d="M276.6,254L300,252.5L370,245.9L420,240L447,234.6L485,232.6L553,225.8L624,222.3L638,225.8L624,229L600,234L553,240L485,243L447,243.5L430,252L370,257.8L347,259.4L303,260L276.6,256Z" fill="#ffa500" stroke="#ffa500" stroke-width="4" stroke-linejoin="round"/><path d="M276.6,254L300,252.5L370,245.9L420,240L447,234.6L485,232.6L553,225.8L624,222.3L638,225.8L624,229L600,234L553,240L485,243L447,243.5L430,252L370,257.8L347,259.4L303,260L276.6,256Z" fill="#ff2828" stroke="#ff2828" stroke-width="2" stroke-linejoin="round"/><path d="M276.6,254L300,252.5L370,245.9L420,240L447,234.6L485,232.6L553,225.8L624,222.3L638,225.8L624,229L600,234L553,240L485,243L447,243.5L430,252L370,257.8L347,259.4L303,260L276.6,256Z" fill="#ffaaaa"/><path d="M137,250L175,250L224,254L280,253L285,259L224,260L175,259L137,259Z" fill="#ffff00"/><path d="M137,250.5L175,251L175,259L137,259Z" fill="#00ffff"/><path d="M137,253L168,253.5L168,257.5L137,257.5Z" fill="#1460ff"/><path d="M137,254.5L160,255L160,256.5L137,256.5Z" fill="#0c00bc"/><path d="M137,236.5L160,237L170,240L179,246L200,249.5L224,251L230,252.5L224,254L200,254L170,252L137,250Z" fill="#ffff00" stroke="#ffff00" stroke-width="6" stroke-linejoin="round"/><path d="M137,236.5L160,237L170,240L179,246L200,249.5L224,251L230,252.5L224,254L200,254L170,252L137,250Z" fill="#ffa500" stroke="#ffa500" stroke-width="4" stroke-linejoin="round"/><path d="M137,236.5L160,237L170,240L179,246L200,249.5L224,251L230,252.5L224,254L200,254L170,252L137,250Z" fill="#ff2828" stroke="#ff2828" stroke-width="2" stroke-linejoin="round"/><path d="M137,236.5L160,237L170,240L179,246L200,249.5L224,251L230,252.5L224,254L200,254L170,252L137,250Z" fill="#ffaaaa"/><path d="M163,236L181,241.7L175,244L160,238Z" fill="#ff2828"/><path d="M447,248.8L455,246L526,243L580,241.5L624,239L660,232L695,225.8L730,223L767,220.5L767,234.6L730,236.5L695,238.2L650,240L624,244L606,247L596.6,249L579,253.3L526,254.2L470,252L455,250.5Z" fill="#00ffff" stroke="#00ffff" stroke-width="8" stroke-linejoin="round"/><path d="M447,248.8L455,246L526,243L580,241.5L624,239L660,232L695,225.8L730,223L767,220.5L767,234.6L730,236.5L695,238.2L650,240L624,244L606,247L596.6,249L579,253.3L526,254.2L470,252L455,250.5Z" fill="#1460ff" stroke="#1460ff" stroke-width="5" stroke-linejoin="round"/><path d="M447,248.8L455,246L526,243L580,241.5L624,239L660,232L695,225.8L730,223L767,220.5L767,234.6L730,236.5L695,238.2L650,240L624,244L606,247L596.6,249L579,253.3L526,254.2L470,252L455,250.5Z" fill="#0c00bc" stroke="#0c00bc" stroke-width="3" stroke-linejoin="round"/><path d="M447,248.8L455,246L526,243L580,241.5L624,239L660,232L695,225.8L730,223L767,220.5L767,234.6L730,236.5L695,238.2L650,240L624,244L606,247L596.6,249L579,253.3L526,254.2L470,252L455,250.5Z" fill="#8000aa"/><path d="M607,240L640,236L660,234L660,243L640,244L607,246Z" fill="#0c00bc"/><path d="M630,247L645,242.5L660,241.8L715,240.5L767,239L767,251.5L715,249.5L660,249.8L645,250L630,248Z" fill="#ffff00" stroke="#ffff00" stroke-width="6" stroke-linejoin="round"/><path d="M630,247L645,242.5L660,241.8L715,240.5L767,239L767,251.5L715,249.5L660,249.8L645,250L630,248Z" fill="#ffa500" stroke="#ffa500" stroke-width="4" stroke-linejoin="round"/><path d="M630,247L645,242.5L660,241.8L715,240.5L767,239L767,251.5L715,249.5L660,249.8L645,250L630,248Z" fill="#ff2828" stroke="#ff2828" stroke-width="2" stroke-linejoin="round"/><path d="M630,247L645,242.5L660,241.8L715,240.5L767,239L767,251.5L715,249.5L660,249.8L645,250L630,248Z" fill="#ffaaaa"/><path d="M600,255.5L650,251.5L690,250.7L722,254L690,257.7L650,258L607,257.7Z" fill="#00ffff" stroke="#00ffff" stroke-width="6" stroke-linejoin="round"/><path d="M600,255.5L650,251.5L690,250.7L722,254L690,257.7L650,258L607,257.7Z" fill="#1460ff" stroke="#1460ff" stroke-width="4" stroke-linejoin="round"/><path d="M600,255.5L650,251.5L690,250.7L722,254L690,257.7L650,258L607,257.7Z" fill="#0c00bc" stroke="#0c00bc" stroke-width="2" stroke-linejoin="round"/><path d="M600,255.5L650,251.5L690,250.7L722,254L690,257.7L650,258L607,257.7Z" fill="#8000aa"/><path d="M722,251.5L767,251.5L767,258.5L722,258.5Z" fill="#00ffff"/><path d="M740,253L767,253.5L767,257L740,256Z" fill="#ffff00"/><path d="M455,253L540,254L560,257L540,260L455,259Z" fill="#ffa500" stroke="#ffa500" stroke-width="2" stroke-linejoin="round"/><path d="M455,253L540,254L560,257L540,260L455,259Z" fill="#ffff00"/><path d="M470,255L520,255.5L530,258L470,258Z" fill="#ff5a00"/><path d="M539,259.4L560,258L600,258.5L615,259.5L630,262L660,260L690,259.2L767,258.6L767,268.5L690,269L660,269.3L630,269L615,268.3L600,268.3L560,265.8L539,261Z" fill="#ffff00" stroke="#ffff00" stroke-width="6" stroke-linejoin="round"/><path d="M539,259.4L560,258L600,258.5L615,259.5L630,262L660,260L690,259.2L767,258.6L767,268.5L690,269L660,269.3L630,269L615,268.3L600,268.3L560,265.8L539,261Z" fill="#ffa500" stroke="#ffa500" stroke-width="4" stroke-linejoin="round"/><path d="M539,259.4L560,258L600,258.5L615,259.5L630,262L660,260L690,259.2L767,258.6L767,268.5L690,269L660,269.3L630,269L615,268.3L600,268.3L560,265.8L539,261Z" fill="#ff2828" stroke="#ff2828" stroke-width="2" stroke-linejoin="round"/><path d="M539,259.4L560,258L600,258.5L615,259.5L630,262L660,260L690,259.2L767,258.6L767,268.5L690,269L660,269.3L630,269L615,268.3L600,268.3L560,265.8L539,261Z" fill="#ffaaaa"/><path d="M605,260L628,262L628,270L612,268Z" fill="#ff2828"/><path d="M223.5,260.5L260,258.6L295,258.6L300,262L295,265.7L260,265.7L230,263Z" fill="#1460ff" stroke="#1460ff" stroke-width="3" stroke-linejoin="round"/><path d="M223.5,260.5L260,258.6L295,258.6L300,262L295,265.7L260,265.7L230,263Z" fill="#0c00bc"/><path d="M250,263L295,262L330,260.4L400,258.5L455,259.5L485,260L508,262L530,264L549.6,267.5L520,272L485,274L455,276.3L400,275.5L330,273.7L300,268L270,266Z" fill="#00ffff" stroke="#00ffff" stroke-width="8" stroke-linejoin="round"/><path d="M250,263L295,262L330,260.4L400,258.5L455,259.5L485,260L508,262L530,264L549.6,267.5L520,272L485,274L455,276.3L400,275.5L330,273.7L300,268L270,266Z" fill="#1460ff" stroke="#1460ff" stroke-width="5" stroke-linejoin="round"/><path d="M250,263L295,262L330,260.4L400,258.5L455,259.5L485,260L508,262L530,264L549.6,267.5L520,272L485,274L455,276.3L400,275.5L330,273.7L300,268L270,266Z" fill="#0c00bc" stroke="#0c00bc" stroke-width="3" stroke-linejoin="round"/><path d="M250,263L295,262L330,260.4L400,258.5L455,259.5L485,260L508,262L530,264L549.6,267.5L520,272L485,274L455,276.3L400,275.5L330,273.7L300,268L270,266Z" fill="#8000aa"/><path d="M490,274L530,273L580,276L560,280L500,280Z" fill="#00ffff" stroke="#00ffff" stroke-width="3" stroke-linejoin="round"/><path d="M490,274L530,273L580,276L560,280L500,280Z" fill="#ffff00"/><path d="M170,270L190,266.6L255,266.6L295,268L330,275L400,277.5L455,278L485,279L528.4,284.2L485,287.7L455,287L366,284L295,281L255,279.5L190,279Z" fill="#ffff00" stroke="#ffff00" stroke-width="6" stroke-linejoin="round"/><path d="M170,270L190,266.6L255,266.6L295,268L330,275L400,277.5L455,278L485,279L528.4,284.2L485,287.7L455,287L366,284L295,281L255,279.5L190,279Z" fill="#ffa500" stroke="#ffa500" stroke-width="4" stroke-linejoin="round"/><path d="M170,270L190,266.6L255,266.6L295,268L330,275L400,277.5L455,278L485,279L528.4,284.2L485,287.7L455,287L366,284L295,281L255,279.5L190,279Z" fill="#ff2828" stroke="#ff2828" stroke-width="2" stroke-linejoin="round"/><path d="M170,270L190,266.6L255,266.6L295,268L330,275L400,277.5L455,278L485,279L528.4,284.2L485,287.7L455,287L366,284L295,281L255,279.5L190,279Z" fill="#ffaaaa"/><path d="M372,286.5L450,287.5L549,287.5L549,289.5L450,289.5L372,288.5Z" fill="#00ffff" stroke="#00ffff" stroke-width="2" stroke-linejoin="round"/><path d="M372,286.5L450,287.5L549,287.5L549,289.5L450,289.5L372,288.5Z" fill="#1460ff"/><path d="M137,280L255,280.5L300,281L340,282L372,284.5L372,286.5L300,287L137,287Z" fill="#00ffff" stroke="#00ffff" stroke-width="5" stroke-linejoin="round"/><path d="M137,280L255,280.5L300,281L340,282L372,284.5L372,286.5L300,287L137,287Z" fill="#1460ff" stroke="#1460ff" stroke-width="3" stroke-linejoin="round"/><path d="M137,280L255,280.5L300,281L340,282L372,284.5L372,286.5L300,287L137,287Z" fill="#8000aa"/><path d="M543.5,281.6L579,274.6L615,271L650,270.5L690,270.6L767,268.3L767,284.2L690,284.5L600,285L571,286L546,283Z" fill="#00ffff" stroke="#00ffff" stroke-width="7" stroke-linejoin="round"/><path d="M543.5,281.6L579,274.6L615,271L650,270.5L690,270.6L767,268.3L767,284.2L690,284.5L600,285L571,286L546,283Z" fill="#1460ff" stroke="#1460ff" stroke-width="5" stroke-linejoin="round"/><path d="M543.5,281.6L579,274.6L615,271L650,270.5L690,270.6L767,268.3L767,284.2L690,284.5L600,285L571,286L546,283Z" fill="#0c00bc" stroke="#0c00bc" stroke-width="3" stroke-linejoin="round"/><path d="M543.5,281.6L579,274.6L615,271L650,270.5L690,270.6L767,268.3L767,284.2L690,284.5L600,285L571,286L546,283Z" fill="#8000aa"/><path d="M137,259.4L188,259.4L205,262L199,264.7L137,264.7Z" fill="#ff2828" stroke="#ff2828" stroke-width="3" stroke-linejoin="round"/><path d="M137,259.4L188,259.4L205,262L199,264.7L137,264.7Z" fill="#ffaaaa"/><path d="M188,260L209,262L205,267L190,265Z" fill="#ff5a00"/><path d="M137,270L148,270.5L153,275L148,279L137,279Z" fill="#00ffff" stroke="#00ffff" stroke-width="6" stroke-linejoin="round"/><path d="M137,270L148,270.5L153,275L148,279L137,279Z" fill="#1460ff" stroke="#1460ff" stroke-width="3" stroke-linejoin="round"/><path d="M137,270L148,270.5L153,275L148,279L137,279Z" fill="#8000aa"/>
</g>
<rect x="157.7" y="468" width="2" height="4" fill="#000"/><rect x="157.7" y="158" width="2" height="4" fill="#000"/><rect x="183.2" y="463" width="2" height="9" fill="#000"/><rect x="183.2" y="158" width="2" height="9" fill="#000"/><rect x="208.7" y="468" width="2" height="4" fill="#000"/><rect x="208.7" y="158" width="2" height="4" fill="#000"/><rect x="234.2" y="463" width="2" height="9" fill="#000"/><rect x="234.2" y="158" width="2" height="9" fill="#000"/><rect x="259.8" y="468" width="2" height="4" fill="#000"/><rect x="259.8" y="158" width="2" height="4" fill="#000"/><rect x="285.3" y="463" width="2" height="9" fill="#000"/><rect x="285.3" y="158" width="2" height="9" fill="#000"/><rect x="310.8" y="468" width="2" height="4" fill="#000"/><rect x="310.8" y="158" width="2" height="4" fill="#000"/><rect x="336.3" y="463" width="2" height="9" fill="#000"/><rect x="336.3" y="158" width="2" height="9" fill="#000"/><rect x="361.8" y="468" width="2" height="4" fill="#000"/><rect x="361.8" y="158" width="2" height="4" fill="#000"/><rect x="387.3" y="463" width="2" height="9" fill="#000"/><rect x="387.3" y="158" width="2" height="9" fill="#000"/><rect x="412.8" y="468" width="2" height="4" fill="#000"/><rect x="412.8" y="158" width="2" height="4" fill="#000"/><rect x="438.3" y="463" width="2" height="9" fill="#000"/><rect x="438.3" y="158" width="2" height="9" fill="#000"/><rect x="463.8" y="468" width="2" height="4" fill="#000"/><rect x="463.8" y="158" width="2" height="4" fill="#000"/><rect x="489.3" y="463" width="2" height="9" fill="#000"/><rect x="489.3" y="158" width="2" height="9" fill="#000"/><rect x="514.9" y="468" width="2" height="4" fill="#000"/><rect x="514.9" y="158" width="2" height="4" fill="#000"/><rect x="540.4" y="463" width="2" height="9" fill="#000"/><rect x="540.4" y="158" width="2" height="9" fill="#000"/><rect x="565.9" y="468" width="2" height="4" fill="#000"/><rect x="565.9" y="158" width="2" height="4" fill="#000"/><rect x="591.4" y="463" width="2" height="9" fill="#000"/><rect x="591.4" y="158" width="2" height="9" fill="#000"/><rect x="616.9" y="468" width="2" height="4" fill="#000"/><rect x="616.9" y="158" width="2" height="4" fill="#000"/><rect x="642.4" y="463" width="2" height="9" fill="#000"/><rect x="642.4" y="158" width="2" height="9" fill="#000"/><rect x="667.9" y="468" width="2" height="4" fill="#000"/><rect x="667.9" y="158" width="2" height="4" fill="#000"/><rect x="693.4" y="463" width="2" height="9" fill="#000"/><rect x="693.4" y="158" width="2" height="9" fill="#000"/><rect x="718.9" y="468" width="2" height="4" fill="#000"/><rect x="718.9" y="158" width="2" height="4" fill="#000"/><rect x="744.4" y="463" width="2" height="9" fill="#000"/><rect x="744.4" y="158" width="2" height="9" fill="#000"/><rect x="137" y="447.3" width="4" height="2" fill="#000"/><rect x="763" y="447.3" width="4" height="2" fill="#000"/><rect x="137" y="420.7" width="8" height="2" fill="#000"/><rect x="759" y="420.7" width="8" height="2" fill="#000"/><rect x="137" y="394.1" width="4" height="2" fill="#000"/><rect x="763" y="394.1" width="4" height="2" fill="#000"/><rect x="137" y="367.5" width="8" height="2" fill="#000"/><rect x="759" y="367.5" width="8" height="2" fill="#000"/><rect x="137" y="340.9" width="4" height="2" fill="#000"/><rect x="763" y="340.9" width="4" height="2" fill="#000"/><rect x="137" y="314.3" width="8" height="2" fill="#000"/><rect x="759" y="314.3" width="8" height="2" fill="#000"/><rect x="137" y="287.7" width="4" height="2" fill="#000"/><rect x="763" y="287.7" width="4" height="2" fill="#000"/><rect x="137" y="261.1" width="8" height="2" fill="#000"/><rect x="759" y="261.1" width="8" height="2" fill="#000"/><rect x="137" y="234.5" width="4" height="2" fill="#000"/><rect x="763" y="234.5" width="4" height="2" fill="#000"/><rect x="137" y="207.9" width="8" height="2" fill="#000"/><rect x="759" y="207.9" width="8" height="2" fill="#000"/><rect x="137" y="181.3" width="4" height="2" fill="#000"/><rect x="763" y="181.3" width="4" height="2" fill="#000"/>
<rect x="136" y="157" width="632" height="316" fill="none" stroke="#000" stroke-width="2"/>
<text x="178.3" y="495" font-family="Liberation Sans, sans-serif" font-size="18.5" textLength="10.6" lengthAdjust="spacingAndGlyphs">4</text><text x="229.3" y="495" font-family="Liberation Sans, sans-serif" font-size="18.5" textLength="10.6" lengthAdjust="spacingAndGlyphs">8</text><text x="275.1" y="495" font-family="Liberation Sans, sans-serif" font-size="18.5" textLength="21.2" lengthAdjust="spacingAndGlyphs">12</text><text x="326.1" y="495" font-family="Liberation Sans, sans-serif" font-size="18.5" textLength="21.2" lengthAdjust="spacingAndGlyphs">16</text><text x="377.1" y="495" font-family="Liberation Sans, sans-serif" font-size="18.5" textLength="21.2" lengthAdjust="spacingAndGlyphs">20</text><text x="428.1" y="495" font-family="Liberation Sans, sans-serif" font-size="18.5" textLength="21.2" lengthAdjust="spacingAndGlyphs">24</text><text x="479.1" y="495" font-family="Liberation Sans, sans-serif" font-size="18.5" textLength="21.2" lengthAdjust="spacingAndGlyphs">28</text><text x="530.2" y="495" font-family="Liberation Sans, sans-serif" font-size="18.5" textLength="21.2" lengthAdjust="spacingAndGlyphs">32</text><text x="581.2" y="495" font-family="Liberation Sans, sans-serif" font-size="18.5" textLength="21.2" lengthAdjust="spacingAndGlyphs">36</text><text x="632.2" y="495" font-family="Liberation Sans, sans-serif" font-size="18.5" textLength="21.2" lengthAdjust="spacingAndGlyphs">40</text><text x="683.2" y="495" font-family="Liberation Sans, sans-serif" font-size="18.5" textLength="21.2" lengthAdjust="spacingAndGlyphs">44</text><text x="734.2" y="495" font-family="Liberation Sans, sans-serif" font-size="18.5" textLength="21.2" lengthAdjust="spacingAndGlyphs">48</text><text x="115.3" y="426.9" font-family="Liberation Sans, sans-serif" font-size="18.5" textLength="10.6" lengthAdjust="spacingAndGlyphs">1</text><text x="115.3" y="373.7" font-family="Liberation Sans, sans-serif" font-size="18.5" textLength="10.6" lengthAdjust="spacingAndGlyphs">2</text><text x="115.3" y="320.5" font-family="Liberation Sans, sans-serif" font-size="18.5" textLength="10.6" lengthAdjust="spacingAndGlyphs">3</text><text x="115.3" y="267.3" font-family="Liberation Sans, sans-serif" font-size="18.5" textLength="10.6" lengthAdjust="spacingAndGlyphs">4</text><text x="115.3" y="214.1" font-family="Liberation Sans, sans-serif" font-size="18.5" textLength="10.6" lengthAdjust="spacingAndGlyphs">5</text>
<text x="224" y="113" font-family="Liberation Sans, sans-serif" font-size="29" textLength="456" lengthAdjust="spacingAndGlyphs" stroke="#fff" stroke-width="0.6">potential temperature deviation</text>
<text x="47" y="133.5" font-family="Liberation Sans, sans-serif" font-size="16" textLength="86" lengthAdjust="spacingAndGlyphs">(x1E4 m)</text>
<text x="684" y="516" font-family="Liberation Sans, sans-serif" font-size="16.5" textLength="98" lengthAdjust="spacingAndGlyphs">(x1000 m)</text>
<text x="778" y="169" font-family="Liberation Sans, sans-serif" font-size="16" textLength="119" lengthAdjust="spacingAndGlyphs">t=1.6056e+06</text>
<text x="379" y="546.5" font-family="Liberation Sans, sans-serif" font-size="22" textLength="146" lengthAdjust="spacingAndGlyphs" stroke="#fff" stroke-width="0.4">X coordinate</text>
<text transform="translate(97,389) rotate(-90)" x="0" y="0" font-family="Liberation Sans, sans-serif" font-size="22" textLength="149" lengthAdjust="spacingAndGlyphs" stroke="#fff" stroke-width="0.4">Z coordinate</text>
<rect x="784" y="246.50" width="18" height="22.70" fill="#ff2828"/><rect x="784" y="269.20" width="18" height="22.70" fill="#ff5a00"/><rect x="784" y="291.90" width="18" height="22.70" fill="#ffa500"/><rect x="784" y="314.60" width="18" height="22.70" fill="#ffff00"/><rect x="784" y="337.30" width="18" height="22.70" fill="#88ff00"/><rect x="784" y="360.00" width="18" height="22.70" fill="#00fa82"/><rect x="784" y="382.70" width="18" height="22.70" fill="#00ffff"/><rect x="784" y="405.40" width="18" height="22.70" fill="#1460ff"/><rect x="784" y="428.10" width="18" height="22.70" fill="#0c00bc"/><rect x="784" y="450.80" width="18" height="22.70" fill="#3c00aa"/><path d="M784,246.5L793,206L802,246.5Z" fill="#ffaaaa" stroke="#000" stroke-width="2" stroke-linejoin="miter"/><path d="M784,473.50L793,514L802,473.50Z" fill="#8000aa" stroke="#000" stroke-width="2" stroke-linejoin="miter"/><rect x="784" y="268.20" width="18" height="2" fill="#000"/><rect x="784" y="290.90" width="18" height="2" fill="#000"/><rect x="784" y="313.60" width="18" height="2" fill="#000"/><rect x="784" y="336.30" width="18" height="2" fill="#000"/><rect x="784" y="359.00" width="18" height="2" fill="#000"/><rect x="784" y="381.70" width="18" height="2" fill="#000"/><rect x="784" y="404.40" width="18" height="2" fill="#000"/><rect x="784" y="427.10" width="18" height="2" fill="#000"/><rect x="784" y="449.80" width="18" height="2" fill="#000"/><rect x="784" y="246.5" width="18" height="227.00" fill="none" stroke="#000" stroke-width="2"/><text x="810" y="274.9" font-family="Liberation Sans, sans-serif" font-size="16.5" textLength="35.5" lengthAdjust="spacingAndGlyphs">0.32</text><text x="810" y="319.7" font-family="Liberation Sans, sans-serif" font-size="16.5" textLength="35.5" lengthAdjust="spacingAndGlyphs">0.16</text><text x="810" y="365.1" font-family="Liberation Sans, sans-serif" font-size="16.5" textLength="10.2" lengthAdjust="spacingAndGlyphs">0</text><text x="810" y="410.3" font-family="Liberation Sans, sans-serif" font-size="16.5" textLength="48.5" lengthAdjust="spacingAndGlyphs">−0.16</text><text x="810" y="455.7" font-family="Liberation Sans, sans-serif" font-size="16.5" textLength="48.5" lengthAdjust="spacingAndGlyphs">−0.32</text>
</svg>
</body></html>
